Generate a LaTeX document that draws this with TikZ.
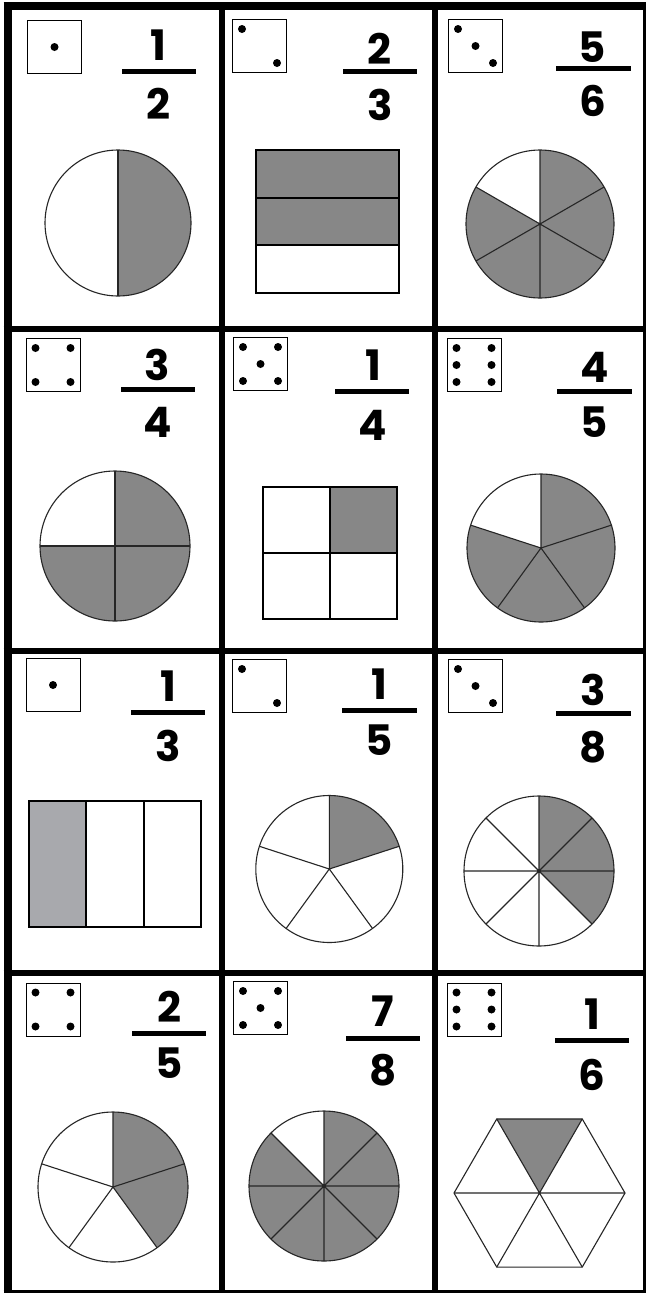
\documentclass[tikz,border=0pt]{standalone}
\usepackage{fontspec}
\newfontfamily\numfont{Poppins}
\usetikzlibrary{positioning}
\definecolor{piegray}{HTML}{878787}
\definecolor{stripgray}{HTML}{A8A9AD}

\begin{document}
\begin{tikzpicture}[
    x=1pt, y=1pt,
    every node/.style={inner sep=0pt},
    frame/.style={line width=6pt},
    rim/.style={line width=3pt},
    die/.style={rectangle, draw, line width=0.9pt, minimum width=54pt, minimum height=53pt},
    digit/.style={font=\numfont\bfseries\fontsize{42}{42}\selectfont},
    fracbar/.style={line width=5pt},
    part/.style={draw=black!85, line width=1.1pt},
    box/.style={draw, line width=2pt},
    piece/.style={fill=piegray}
    ]
    \fill[white] (0,0) rectangle (647,-1293);
    \useasboundingbox (0,0) rectangle (647,-1293);
    % Card grid
    \draw[line width=8pt] (7.5,-2) -- (7.5,-1293);
    \draw[line width=8pt] (3.5,-6) -- (646,-6);
    \draw[frame] (222,-2) -- (222,-1293);
    \draw[frame] (435,-2) -- (435,-1293);
    \draw[rim] (644.5,-2) -- (644.5,-1293);
    \draw[frame] (3.5,-328.5) -- (646,-328.5);
    \draw[frame] (3.5,-651) -- (646,-651);
    \draw[frame] (3.5,-973) -- (646,-973);
    \draw[rim] (3.5,-1291.5) -- (646,-1291.5);
    % Card 1: 1/2
    \node[die] (die1) at (54.5,-47) {};
    \fill (die1.center) circle (4);
    \node[digit] (num1) at (158.5,-45) {1};
    \node[digit] (den1) at (158,-104) {2};
    \draw[fracbar] (122,-71.5) -- (196,-71.5);
    \coordinate (c1) at (118,-223);
    \fill[piece] (c1) -- ++(90:73) arc[start angle=90, end angle=-90, radius=73] -- cycle;
    \draw[part] (c1) circle (73);
    \draw[part] (c1) -- +(90:73) (c1) -- +(270:73);
    % Card 2: 2/3
    \node[die] (die2) at (259.5,-46) {};
    \fill ([shift={(-17.5,17)}]die2.center) circle (4);
    \fill ([shift={(17.5,-17)}]die2.center) circle (4);
    \node[digit] (num2) at (379.5,-48.5) {2};
    \node[digit] (den2) at (380,-105) {3};
    \draw[fracbar] (343,-71.5) -- (417,-71.5);
    \fill[piece] (256,-150) rectangle (399,-245.3);
    \draw[box] (256,-150) rectangle (399,-293);
    \draw[box] (256,-197.7) -- (399,-197.7);
    \draw[box] (256,-245.3) -- (399,-245.3);
    % Card 3: 5/6
    \node[die] (die3) at (475.5,-46) {};
    \fill ([shift={(-17.5,17)}]die3.center) circle (4);
    \fill (die3.center) circle (4);
    \fill ([shift={(17.5,-17)}]die3.center) circle (4);
    \node[digit] (num3) at (592.5,-47.5) {5};
    \node[digit] (den3) at (593,-101) {6};
    \draw[fracbar] (556,-68.5) -- (631,-68.5);
    \coordinate (c3) at (540,-224);
    \fill[piece] (c3) -- ++(150:74) arc[start angle=150, end angle=450, radius=74] -- cycle;
    \draw[part] (c3) circle (74);
    \draw[part] (c3) -- +(90:74) (c3) -- +(30:74) (c3) -- +(-30:74)
        (c3) -- +(-90:74) (c3) -- +(-150:74) (c3) -- +(150:74);
    % Card 4: 3/4
    \node[die] (die4) at (53,-365) {};
    \fill ([shift={(-17.5,17)}]die4.center) circle (4);
    \fill ([shift={(17.5,17)}]die4.center) circle (4);
    \fill ([shift={(-17.5,-17)}]die4.center) circle (4);
    \fill ([shift={(17.5,-17)}]die4.center) circle (4);
    \node[digit] (num4) at (157.5,-365) {3};
    \node[digit] (den4) at (158,-422.5) {4};
    \draw[fracbar] (121,-389.5) -- (195,-389.5);
    \coordinate (c4) at (115,-546);
    \fill[piece] (c4) -- ++(180:75) arc[start angle=180, end angle=450, radius=75] -- cycle;
    \draw[part] (c4) circle (75);
    \draw[part] (c4) -- +(0:75) (c4) -- +(90:75) (c4) -- +(180:75) (c4) -- +(270:75);
    % Card 5: 1/4
    \node[die] (die5) at (260.5,-364) {};
    \fill ([shift={(-17.5,17)}]die5.center) circle (4);
    \fill ([shift={(17.5,17)}]die5.center) circle (4);
    \fill (die5.center) circle (4);
    \fill ([shift={(-17.5,-17)}]die5.center) circle (4);
    \fill ([shift={(17.5,-17)}]die5.center) circle (4);
    \node[digit] (num5) at (373,-365) {1};
    \node[digit] (den5) at (372.5,-425) {4};
    \draw[fracbar] (335,-391) -- (409,-391);
    \fill[piece] (330,-487) rectangle (397,-553);
    \draw[box] (263,-487) rectangle (397,-619);
    \draw[box] (330,-487) -- (330,-619);
    \draw[box] (263,-553) -- (397,-553);
    % Card 6: 4/5
    \node[die] (die6) at (474,-365) {};
    \fill ([shift={(-17.5,17)}]die6.center) circle (4);
    \fill ([shift={(17.5,17)}]die6.center) circle (4);
    \fill ([shift={(-17.5,0)}]die6.center) circle (4);
    \fill ([shift={(17.5,0)}]die6.center) circle (4);
    \fill ([shift={(-17.5,-17)}]die6.center) circle (4);
    \fill ([shift={(17.5,-17)}]die6.center) circle (4);
    \node[digit] (num6) at (594.5,-367) {4};
    \node[digit] (den6) at (594.5,-422) {5};
    \draw[fracbar] (557,-391) -- (632,-391);
    \coordinate (c6) at (541,-548);
    \fill[piece] (c6) -- ++(162:74) arc[start angle=162, end angle=450, radius=74] -- cycle;
    \draw[part] (c6) circle (74);
    \draw[part] (c6) -- +(90:74) (c6) -- +(18:74) (c6) -- +(-54:74)
        (c6) -- +(-126:74) (c6) -- +(162:74);
    % Card 7: 1/3
    \node[die] (die7) at (53,-685) {};
    \fill (die7.center) circle (4);
    \node[digit] (num7) at (168,-686) {1};
    \node[digit] (den7) at (168,-745.5) {3};
    \draw[fracbar] (131,-712) -- (205,-712);
    \fill[stripgray] (29,-801) rectangle (86.3,-927);
    \draw[box] (29,-801) rectangle (201,-927);
    \draw[box] (86.3,-801) -- (86.3,-927);
    \draw[box] (143.7,-801) -- (143.7,-927);
    % Card 8: 1/5
    \node[die] (die8) at (259.5,-686) {};
    \fill ([shift={(-17.5,17)}]die8.center) circle (4);
    \fill ([shift={(17.5,-17)}]die8.center) circle (4);
    \node[digit] (num8) at (379.5,-684.5) {1};
    \node[digit] (den8) at (379.5,-740.5) {5};
    \draw[fracbar] (342,-710) -- (417,-710);
    \coordinate (c8) at (329.3,-869);
    \fill[piece] (c8) -- ++(18:73.5) arc[start angle=18, end angle=90, radius=73.5] -- cycle;
    \draw[part] (c8) circle (73.5);
    \draw[part] (c8) -- +(90:73.5) (c8) -- +(18:73.5) (c8) -- +(-54:73.5)
        (c8) -- +(-126:73.5) (c8) -- +(162:73.5);
    % Card 9: 3/8
    \node[die] (die9) at (475.5,-686) {};
    \fill ([shift={(-17.5,17)}]die9.center) circle (4);
    \fill (die9.center) circle (4);
    \fill ([shift={(17.5,-17)}]die9.center) circle (4);
    \node[digit] (num9) at (593.5,-690) {3};
    \node[digit] (den9) at (593.5,-747) {8};
    \draw[fracbar] (556,-713.5) -- (631,-713.5);
    \coordinate (c9) at (539,-871);
    \fill[piece] (c9) -- ++(-45:75) arc[start angle=-45, end angle=90, radius=75] -- cycle;
    \draw[part] (c9) circle (75);
    \draw[part] (c9) -- +(0:75) (c9) -- +(45:75) (c9) -- +(90:75) (c9) -- +(135:75)
        (c9) -- +(180:75) (c9) -- +(225:75) (c9) -- +(270:75) (c9) -- +(315:75);
    % Card 10: 2/5
    \node[die] (die10) at (53,-1009.5) {};
    \fill ([shift={(-17.5,17)}]die10.center) circle (4);
    \fill ([shift={(17.5,17)}]die10.center) circle (4);
    \fill ([shift={(-17.5,-17)}]die10.center) circle (4);
    \fill ([shift={(17.5,-17)}]die10.center) circle (4);
    \node[digit] (num10) at (169,-1007) {2};
    \node[digit] (den10) at (169,-1063) {5};
    \draw[fracbar] (132,-1033) -- (206,-1033);
    \coordinate (c10) at (113,-1187);
    \fill[piece] (c10) -- ++(-54:75) arc[start angle=-54, end angle=90, radius=75] -- cycle;
    \draw[part] (c10) circle (75);
    \draw[part] (c10) -- +(90:75) (c10) -- +(18:75) (c10) -- +(-54:75)
        (c10) -- +(-126:75) (c10) -- +(162:75);
    % Card 11: 7/8
    \node[die] (die11) at (260.5,-1008) {};
    \fill ([shift={(-17.5,17)}]die11.center) circle (4);
    \fill ([shift={(17.5,17)}]die11.center) circle (4);
    \fill (die11.center) circle (4);
    \fill ([shift={(-17.5,-17)}]die11.center) circle (4);
    \fill ([shift={(17.5,-17)}]die11.center) circle (4);
    \node[digit] (num11) at (383,-1011.5) {7};
    \node[digit] (den11) at (383,-1070) {8};
    \draw[fracbar] (346,-1038.5) -- (420,-1038.5);
    \coordinate (c11) at (324,-1186);
    \fill[piece] (c11) -- ++(135:75) arc[start angle=135, end angle=450, radius=75] -- cycle;
    \draw[part] (c11) circle (75);
    \draw[part] (c11) -- +(0:75) (c11) -- +(45:75) (c11) -- +(90:75) (c11) -- +(135:75)
        (c11) -- +(180:75) (c11) -- +(225:75) (c11) -- +(270:75) (c11) -- +(315:75);
    % Card 12: 1/6
    \node[die] (die12) at (474,-1009.5) {};
    \fill ([shift={(-17.5,17)}]die12.center) circle (4);
    \fill ([shift={(17.5,17)}]die12.center) circle (4);
    \fill ([shift={(-17.5,0)}]die12.center) circle (4);
    \fill ([shift={(17.5,0)}]die12.center) circle (4);
    \fill ([shift={(-17.5,-17)}]die12.center) circle (4);
    \fill ([shift={(17.5,-17)}]die12.center) circle (4);
    \node[digit] (num12) at (592,-1014) {1};
    \node[digit] (den12) at (592,-1075) {6};
    \draw[fracbar] (555,-1040.5) -- (629,-1040.5);
    \coordinate (c12) at (539.5,-1193);
    \fill[piece] (c12) -- +(60:85.5) -- +(120:85.5) -- cycle;
    \draw[part] (c12) +(0:85.5) -- +(60:85.5) -- +(120:85.5) -- +(180:85.5)
        -- +(240:85.5) -- +(300:85.5) -- cycle;
    \draw[part] (c12) -- +(0:85.5) (c12) -- +(60:85.5) (c12) -- +(120:85.5)
        (c12) -- +(180:85.5) (c12) -- +(240:85.5) (c12) -- +(300:85.5);
\end{tikzpicture}
\end{document}
